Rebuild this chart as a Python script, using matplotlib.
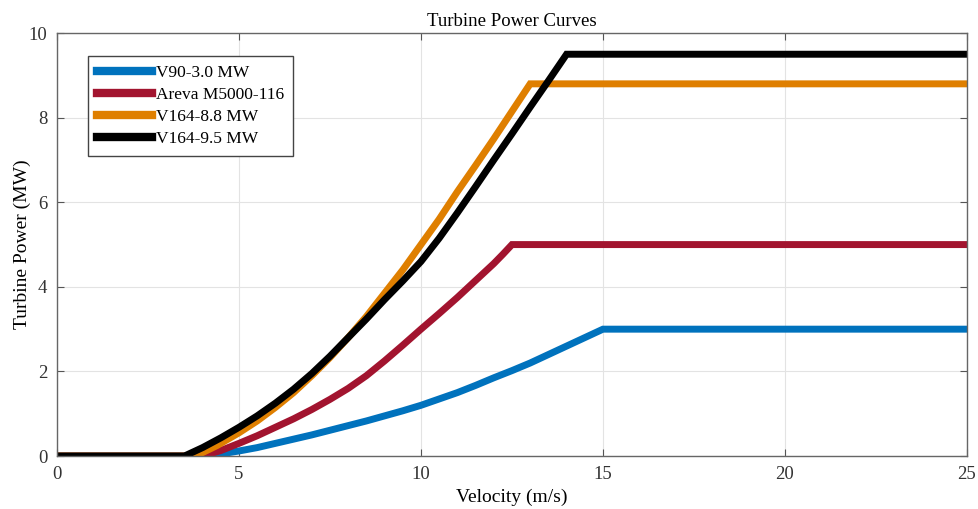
import matplotlib.pyplot as plt

# velocity (m/s) and power (MW)
v_v90 = [0, 4.0, 4.5, 5, 5.5, 6, 6.5, 7, 7.5, 8, 8.5, 9, 9.5, 10, 10.5, 11, 11.5,
         12, 12.5, 13, 13.5, 14, 14.5, 15, 25]
p_v90 = [0, 0, 0.05, 0.12, 0.2, 0.3, 0.4, 0.5, 0.61, 0.72, 0.83, 0.95, 1.07, 1.2,
         1.35, 1.5, 1.67, 1.85, 2.02, 2.2, 2.4, 2.6, 2.8, 3.0, 3.0]

v_areva = [0, 4.0, 4.5, 5, 5.5, 6, 6.5, 7, 7.5, 8, 8.5, 9, 9.5, 10, 10.5, 11, 11.5,
           12, 12.25, 12.5, 25]
p_areva = [0, 0, 0.13, 0.3, 0.48, 0.68, 0.88, 1.1, 1.34, 1.6, 1.9, 2.25, 2.62, 3.0,
           3.37, 3.75, 4.15, 4.55, 4.77, 5.0, 5.0]

v_v164_88 = [0, 3.8, 4.4, 5, 5.5, 6, 6.5, 7, 7.5, 8, 8.5, 9, 9.5, 10, 10.5, 11, 11.5,
             12, 12.5, 13, 25]
p_v164_88 = [0, 0, 0.25, 0.55, 0.83, 1.15, 1.5, 1.9, 2.33, 2.8, 3.3, 3.85, 4.4, 5.0,
             5.6, 6.25, 6.87, 7.5, 8.15, 8.8, 8.8]

v_v164_95 = [0, 3.5, 4, 4.5, 5, 5.5, 6, 6.5, 7, 7.5, 8, 8.5, 9, 9.5, 10, 10.5, 11,
             11.5, 12, 12.5, 13, 13.5, 14, 25]
p_v164_95 = [0, 0, 0.2, 0.43, 0.68, 0.95, 1.25, 1.58, 1.95, 2.36, 2.8, 3.24, 3.7, 4.14,
             4.6, 5.15, 5.75, 6.37, 7.0, 7.62, 8.25, 8.87, 9.5, 9.5]

labels = ["V90-3.0 MW", "Areva M5000-116", "V164-8.8 MW", "V164-9.5 MW"]
colors = ["#0072BD", "#A2142F", "#DF7F00", "#000000"]

plt.rcParams["font.family"] = ["Liberation Serif", "DejaVu Serif"]

fig = plt.figure(figsize=(9.79, 5.09), dpi=100)
ax = fig.add_axes([0.0582, 0.104, 0.9295, 0.831])

series = [(v_v90, p_v90), (v_areva, p_areva), (v_v164_88, p_v164_88), (v_v164_95, p_v164_95)]
for (v, p), lab, c in zip(series, labels, colors):
    ax.plot(v, p, color=c, lw=5, label=lab, solid_joinstyle="miter")

ax.set_xlim(0, 25)
ax.set_ylim(0, 10)
ax.set_xticks([0, 5, 10, 15, 20, 25])
ax.set_yticks([0, 2, 4, 6, 8, 10])
ax.grid(True, color="#e3e3e3", lw=0.8)
ax.set_axisbelow(True)
ax.tick_params(direction="in", top=True, right=True, length=5, color="#555555",
               labelsize=13.5, labelcolor="#333333", pad=7)
for s in ax.spines.values():
    s.set_color("#666666")
    s.set_linewidth(1.0)

ax.set_title("Turbine Power Curves", fontsize=13.5, pad=5)
ax.set_xlabel("Velocity (m/s)", fontsize=14, labelpad=4)
ax.set_ylabel("Turbine Power (MW)", fontsize=14, labelpad=-2)

leg = ax.legend(loc="upper left", bbox_to_anchor=(0.034, 0.946), fontsize=12.5,
                fancybox=False, framealpha=1, edgecolor="#444444",
                handlelength=3.2, handletextpad=0.25, borderpad=0.5,
                labelspacing=0.35, borderaxespad=0)
leg.get_frame().set_linewidth(1.0)
for h in leg.get_lines():
    h.set_linewidth(6)

fig.savefig("out.png", dpi=100)
